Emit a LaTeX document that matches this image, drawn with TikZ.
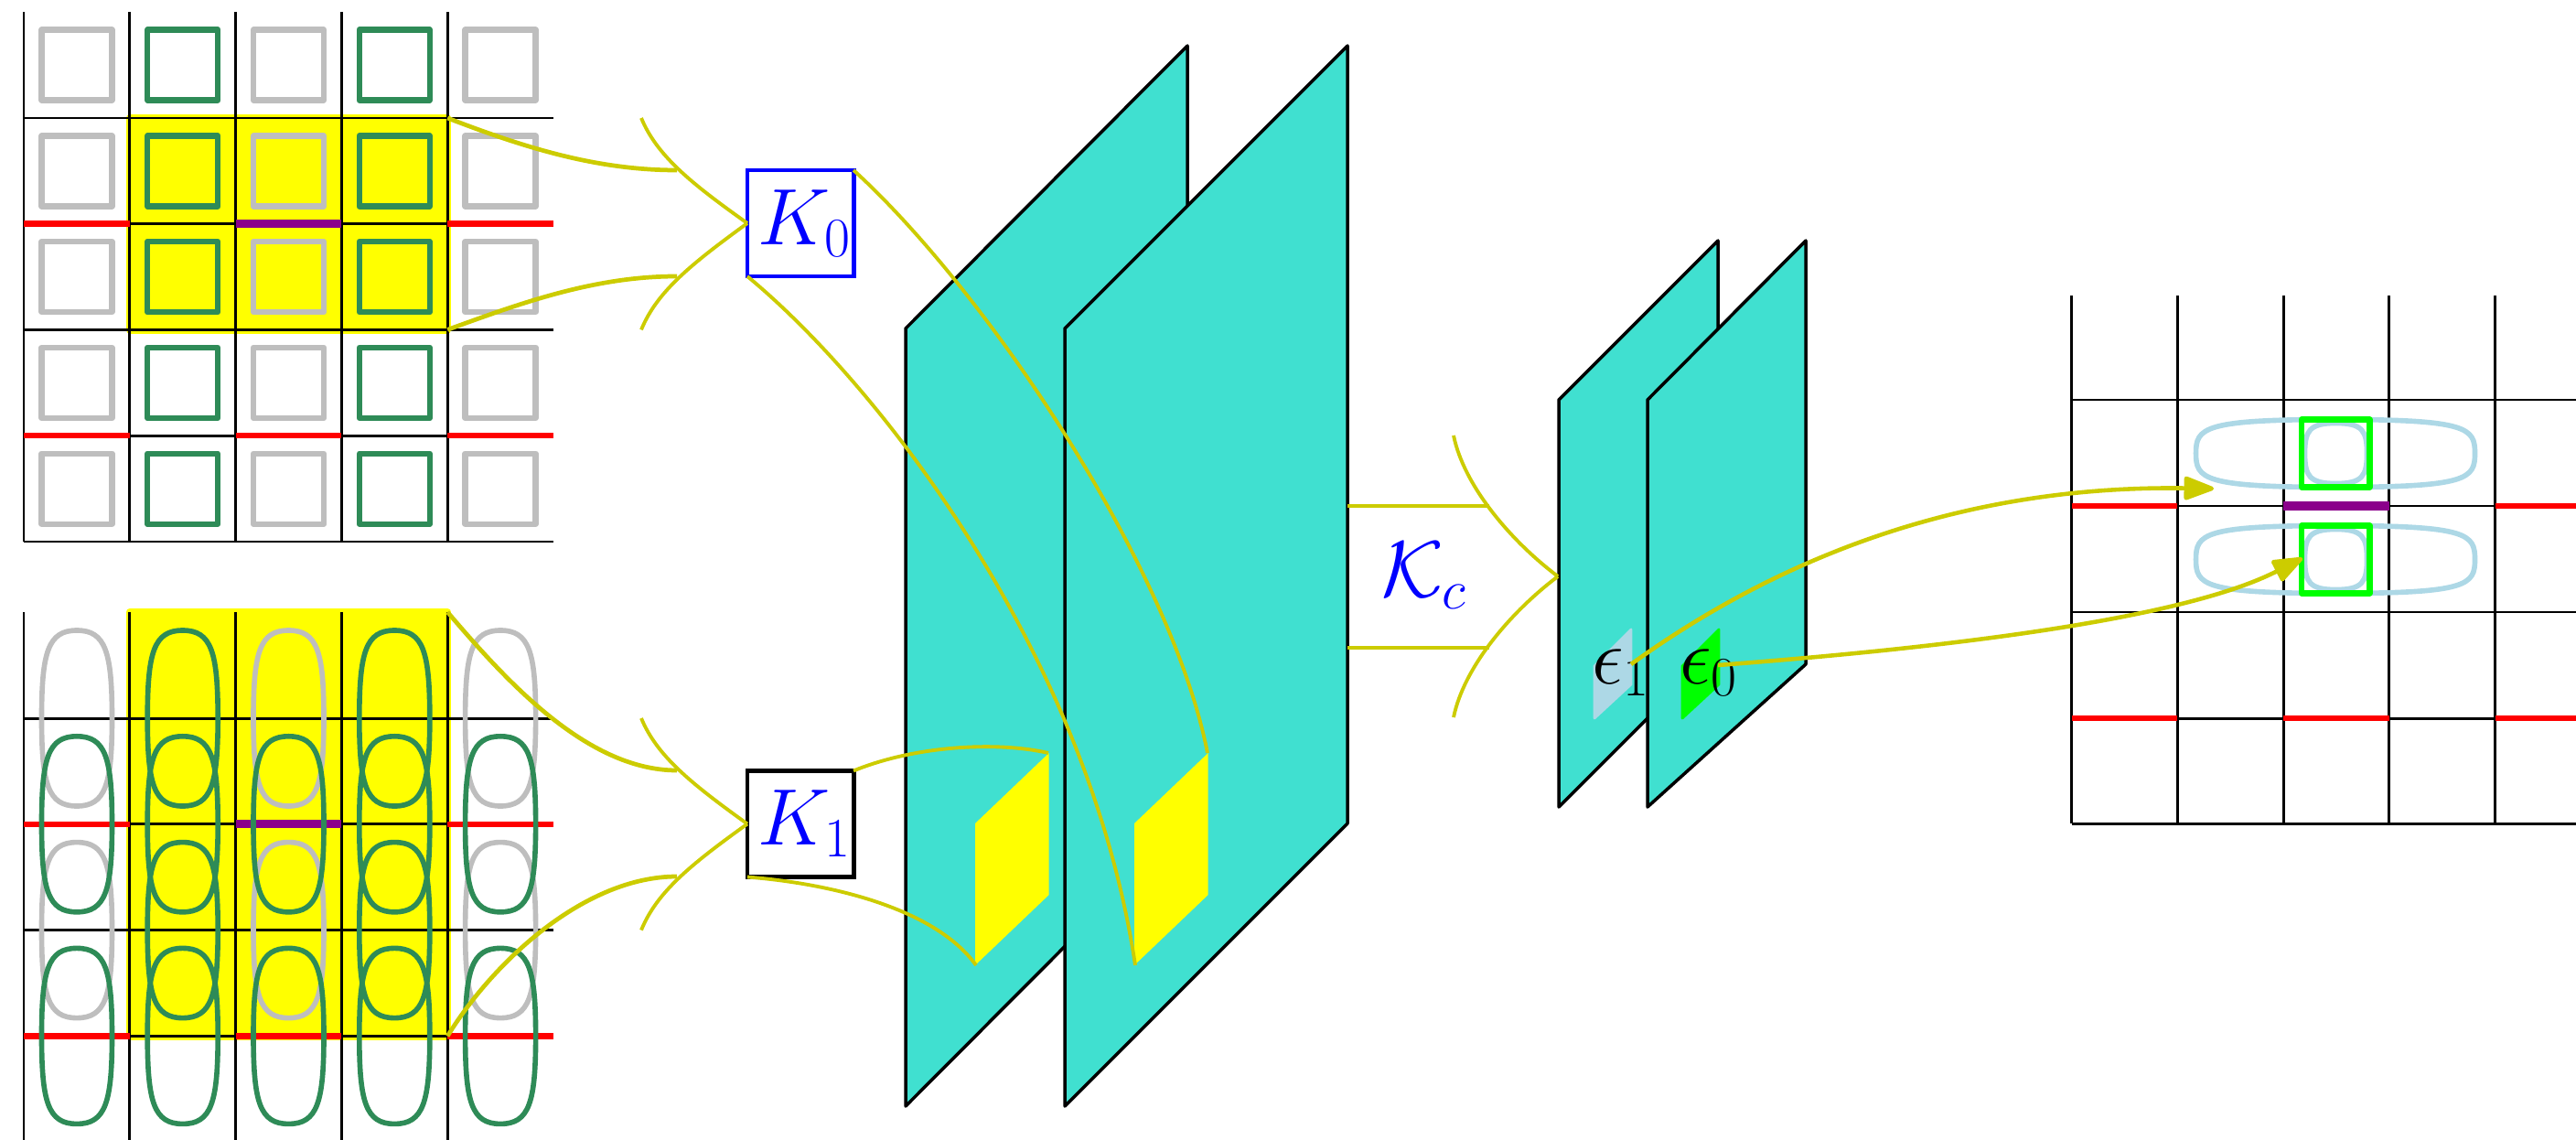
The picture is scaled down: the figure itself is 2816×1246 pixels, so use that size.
\documentclass[tikz,border=0pt]{standalone}
\usetikzlibrary{arrows.meta}
\DeclareMathSizes{24.88}{24.88}{17.28}{12}
\definecolor{olivey}{HTML}{CCCC00}
\definecolor{seag}{HTML}{2E8B57}
\definecolor{silv}{HTML}{BEBEBE}
\definecolor{purp}{HTML}{8B008B}
\definecolor{turq}{HTML}{40E0D0}
\definecolor{lblue}{HTML}{ADD8E6}
\definecolor{lime}{HTML}{00FF00}
\definecolor{yel}{HTML}{FFFF00}
\definecolor{pure red}{HTML}{FF0000}
\definecolor{pure blue}{HTML}{0000FF}
\tikzset{
  gridline/.style={black,line width=0.85pt},
  redseg/.style={pure red,line width=1.8pt},
  purpseg/.style={purp,line width=2.6pt},
  yellowpatch/.style={fill=yel,draw=yel,line width=2.4pt,line join=round},
  sqgrey/.style={draw=silv,line width=1.8pt,line join=round},
  sqgreen/.style={draw=seag,line width=1.8pt,line join=round},
  sqlime/.style={draw=lime,line width=1.8pt,line join=round},
  lpgrey/.style={draw=silv,line width=1.6pt},
  lpgreen/.style={draw=seag,line width=1.6pt},
  lpblue/.style={draw=lblue,line width=1.6pt},
  plate/.style={fill=turq,draw=black,line width=1pt,line join=round},
  patchy/.style={fill=yel,draw=none},
  smallpatch/.style={line width=0.8pt,line join=round},
  conthick/.style={olivey,line width=1.35pt},
  conthin/.style={olivey,line width=1.1pt},
  conarrow/.style={olivey,line width=1.3pt,-{Triangle[length=10.5pt,width=7.6pt,round]}},
  kbox/.style={rectangle,draw,line width=1.4pt,minimum width=1.16cm,minimum height=1.16cm,inner sep=0pt,outer sep=0pt,text=pure blue,font=\fontsize{24.88}{30}\selectfont},
  biglabel/.style={inner sep=0pt,outer sep=0pt,anchor=base west,font=\fontsize{24.88}{30}\selectfont}
}
% rounded loop: #1 style, #2 #3 centre, #4 half width, #5 half height, #6 #7 control factors
\newcommand{\suploop}[7]{\draw[shift={(#2,#3)},#1,xscale=#4,yscale=#5]
  (-1,0) .. controls (-1,#6) and (-#7,1) .. (0,1)
  .. controls (#7,1) and (1,#6) .. (1,0)
  .. controls (1,-#6) and (#7,-1) .. (0,-1)
  .. controls (-#7,-1) and (-1,-#6) .. (-1,0) -- cycle;}
\begin{document}
\begin{tikzpicture}[x=0.01cm,y=-0.01cm]
\useasboundingbox (0,0) rectangle (2816,1246);
% ---------- top-left grid
\draw[yellowpatch] (141.8,129) rectangle (489.2,360.4);
\foreach \x in {26,141.8,257.6,373.4,489.2} {\draw[gridline] (\x,13) -- (\x,592);}
\foreach \y in {129,244.6,360.4,476.2,592} {\draw[gridline] (26,\y) -- (605,\y);}
\draw[redseg] (26,244.6) -- (141.8,244.6);
\draw[redseg] (489.2,244.6) -- (605,244.6);
\draw[purpseg] (257.6,244.6) -- (373.4,244.6);
\draw[redseg] (26,476.2) -- (141.8,476.2);
\draw[redseg] (257.6,476.2) -- (373.4,476.2);
\draw[redseg] (489.2,476.2) -- (605,476.2);
\foreach \y in {71,187,302.6,418.4,534.2}{
  \foreach \x in {84,315.5,547.1}{
    \draw[sqgrey] (\x-38.5,\y-38.5) rectangle (\x+38.5,\y+38.5);}
  \foreach \x in {199.7,431.3}{
    \draw[sqgreen] (\x-38.5,\y-38.5) rectangle (\x+38.5,\y+38.5);}
}
% ---------- bottom-left grid
\draw[yellowpatch] (141.8,669) rectangle (489.2,1132.4);
\foreach \x in {26,141.8,257.6,373.4,489.2} {\draw[gridline] (\x,669) -- (\x,1246);}
\foreach \y in {785,900.8,1016.6,1132.4} {\draw[gridline] (26,\y) -- (605,\y);}
\draw[redseg] (26,900.8) -- (141.8,900.8);
\draw[redseg] (489.2,900.8) -- (605,900.8);
\draw[purpseg] (257.6,900.8) -- (373.4,900.8);
\draw[redseg] (26,1132.4) -- (141.8,1132.4);
\draw[redseg] (257.6,1132.4) -- (373.4,1132.4);
\draw[redseg] (489.2,1132.4) -- (605,1132.4);
\foreach \x in {84,315.5,547.1}{
  \suploop{lpgrey}{\x}{785}{38.5}{96}{.75}{.82}
  \suploop{lpgrey}{\x}{1016.6}{38.5}{96}{.75}{.82}
}
\foreach \x in {84,315.5,547.1}{
  \suploop{lpgreen}{\x}{900.8}{38.5}{96}{.75}{.82}
  \suploop{lpgreen}{\x}{1132.4}{38.5}{96}{.75}{.82}
}
\foreach \x in {199.7,431.3}{
  \foreach \y in {785,900.8,1016.6,1132.4}{
    \suploop{lpgreen}{\x}{\y}{38.5}{96}{.75}{.82}}
}
% ---------- right grid
\foreach \x in {2264.5,2380.3,2496,2611.8,2727.6} {\draw[gridline] (\x,323) -- (\x,900);}
\foreach \y in {437,553,669,785,900} {\draw[gridline] (2264.5,\y) -- (2816,\y);}
\draw[redseg] (2264.5,553) -- (2380.3,553);
\draw[redseg] (2727.6,553) -- (2816,553);
\draw[purpseg] (2496,553) -- (2611.8,553);
\draw[redseg] (2264.5,785) -- (2380.3,785);
\draw[redseg] (2496,785) -- (2611.8,785);
\draw[redseg] (2727.6,785) -- (2816,785);
\foreach \y in {495.5,611.5}{
  \suploop{lpblue}{2553}{\y}{152.5}{37}{.75}{.95}
  \suploop{lpblue}{2553.5}{\y}{34}{33}{.75}{.85}
  \draw[sqlime] (2516,\y-37) rectangle (2590.5,\y+37);
}
% ---------- plates
\draw[plate] (990,359) -- (1298,50) -- (1298,900) -- (990,1209) -- cycle;
\draw[plate] (1164,359) -- (1473,50) -- (1473,900) -- (1164,1209) -- cycle;
\draw[plate] (1704,437) -- (1878,263) -- (1878,708) -- (1704,882) -- cycle;
\draw[plate] (1801,437) -- (1974,263) -- (1974,726) -- (1801,882) -- cycle;
\fill[patchy] (1066,900) -- (1146.7,823) -- (1146.7,978) -- (1066,1055) -- cycle;
\fill[patchy] (1240,900) -- (1320.7,823) -- (1320.7,978) -- (1240,1055) -- cycle;
\filldraw[smallpatch,fill=lblue,draw=lblue] (1743,728) -- (1783,688) -- (1783,748) -- (1743,785) -- cycle;
\filldraw[smallpatch,fill=lime,draw=lime] (1839,728) -- (1879,688) -- (1879,748) -- (1839,785) -- cycle;
% ---------- labelled nodes
\node[kbox,draw=pure blue] (K0) at (875,244) {\makebox[1.16cm][r]{\raisebox{0.04cm}{$K_0$}\hspace{0.02cm}}};
\node[kbox,draw=black] (K1) at (875,900.5) {\makebox[1.16cm][r]{\raisebox{0.04cm}{$K_1$}\hspace{0.02cm}}};
\node[biglabel,text=pure blue] (Kc) at (1510,652) {$\mathcal{K}_c$};
\node[biglabel,text=black] (e1) at (1740,747) {$\epsilon_1$};
\node[biglabel,text=black] (e0) at (1836,747) {$\epsilon_0$};
% ---------- free connector ends
\coordinate (aTL) at (489.2,129);
\coordinate (aBL) at (489.2,360.4);
\coordinate (jT) at (740,186);
\coordinate (jB) at (740,302);
\coordinate (sT) at (701,129);
\coordinate (sB) at (701,360.4);
\coordinate (bTL) at (489.2,669);
\coordinate (bBL) at (489.2,1132.4);
\coordinate (jT1) at (740,842);
\coordinate (jB1) at (740,958);
\coordinate (sT1) at (701,785);
\coordinate (sB1) at (701,1016.6);
\coordinate (y1TR) at (1146,823);
\coordinate (y1BL) at (1067,1055);
\coordinate (y2TR) at (1320,823);
\coordinate (y2BL) at (1241,1055);
\coordinate (pT) at (1473,553);
\coordinate (pB) at (1473,708);
\coordinate (cT) at (1628,553);
\coordinate (cB) at (1628,708);
\coordinate (sTc) at (1589,476);
\coordinate (sBc) at (1589,784);
\coordinate (cM) at (1703,630);
\coordinate (st1) at (1783,726);
\coordinate (st0) at (1878,727);
\coordinate (tip1) at (2420,534);
\coordinate (tip0) at (2517,610);
% ---------- connectors to K0
\draw[conthick] (aTL) .. controls (570,160) and (650,186) .. (jT);
\draw[conthick] (aBL) .. controls (570,331) and (650,302) .. (jB);
\draw[conthin] (sT) .. controls (718,170) and (755,200) .. (K0.west);
\draw[conthin] (sB) .. controls (718,319) and (755,289) .. (K0.west);
% ---------- connectors to K1
\draw[conthick] (bTL) .. controls (550,740) and (640,842) .. (jT1);
\draw[conthick] (bBL) .. controls (540,1050) and (640,958) .. (jB1);
\draw[conthin] (sT1) .. controls (718,826) and (755,856) .. (K1.west);
\draw[conthin] (sB1) .. controls (718,975) and (755,945) .. (K1.west);
% ---------- from K0 and K1 to the patches
\draw[conthin] (K0.north east) .. controls (1080,320) and (1280,620) .. (y2TR);
\draw[conthin] (K0.south west) .. controls (960,420) and (1190,715) .. (y2BL);
\draw[conthin] (K1.north east) .. controls (1000,815) and (1090,810) .. (y1TR);
\draw[conthin] (K1.south west) .. controls (900,965) and (1020,990) .. (y1BL);
% ---------- Kc connectors
\draw[conthick] (pT) -- (cT);
\draw[conthick] (pB) -- (cB);
\draw[conthin] (sTc) .. controls (1600,530) and (1650,590) .. (cM);
\draw[conthin] (sBc) .. controls (1600,730) and (1650,670) .. (cM);
% ---------- arrows
\draw[conarrow] (st1) .. controls (1930,620) and (2130,530) .. (tip1);
\draw[conarrow] (st0) .. controls (2100,710) and (2380,680) .. (tip0);
\end{tikzpicture}
\end{document}
